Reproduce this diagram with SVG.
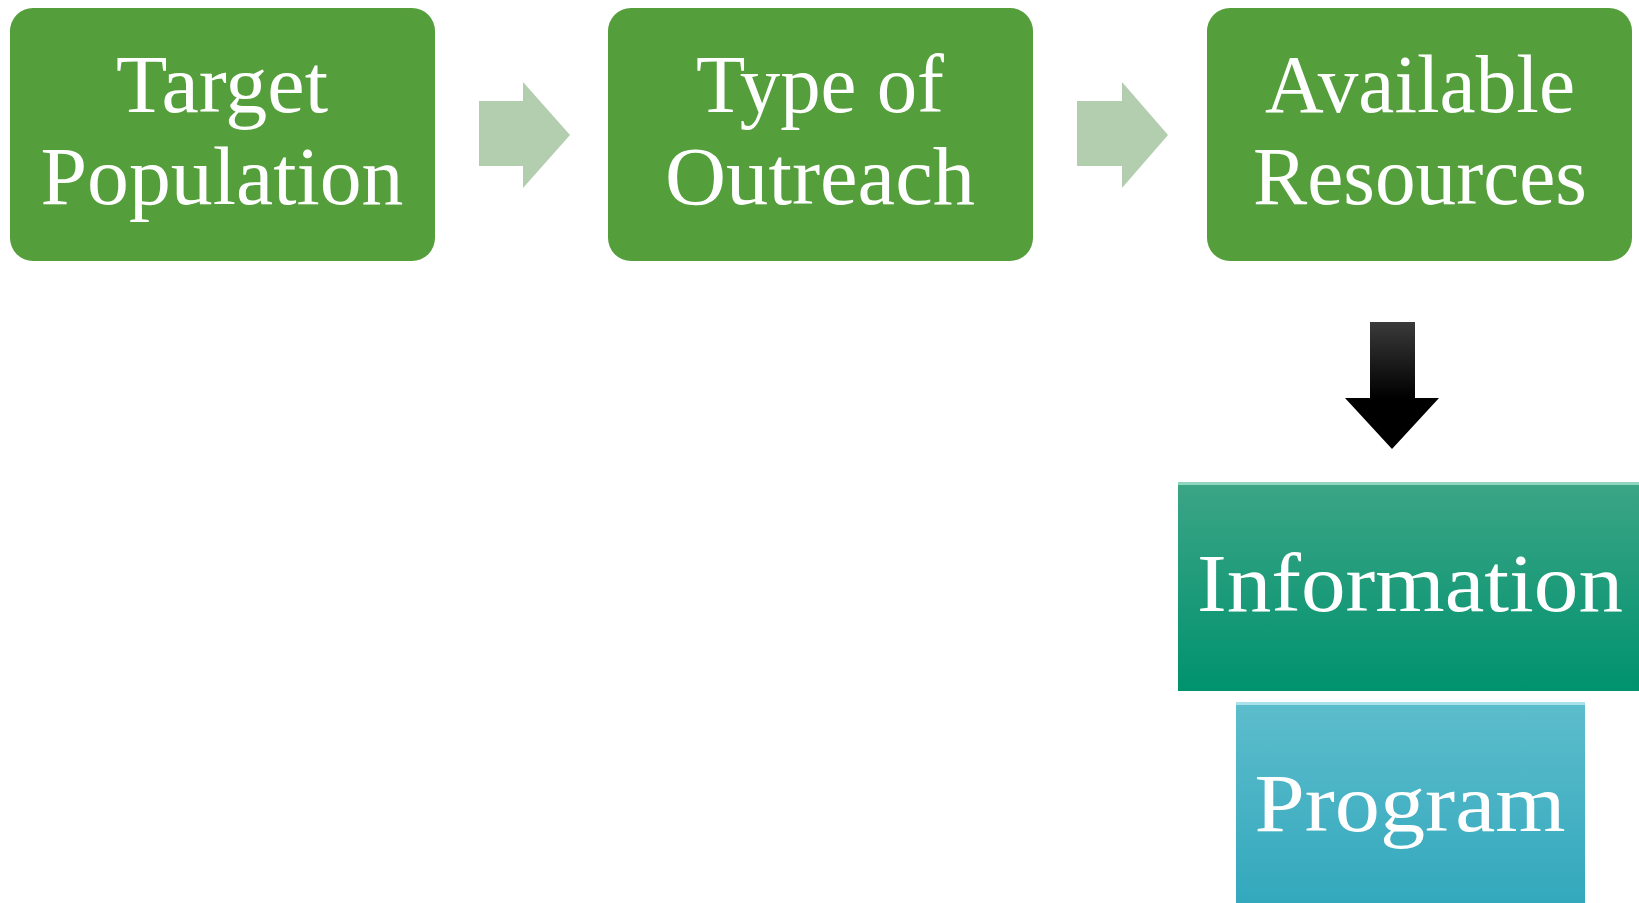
<svg xmlns="http://www.w3.org/2000/svg" width="1639" height="903" viewBox="0 0 1639 903">
<defs>
<linearGradient id="gInfo" x1="0" y1="0" x2="0" y2="1">
<stop offset="0" stop-color="#3ca586"/>
<stop offset="1" stop-color="#00926e"/>
</linearGradient>
<linearGradient id="gProg" x1="0" y1="0" x2="0" y2="1">
<stop offset="0" stop-color="#5dbdcc"/>
<stop offset="1" stop-color="#33a8bd"/>
</linearGradient>
<linearGradient id="gBlack" x1="0" y1="0" x2="0" y2="1">
<stop offset="0" stop-color="#3a3a3a"/>
<stop offset="0.6" stop-color="#000"/>
<stop offset="1" stop-color="#000"/>
</linearGradient>
<style>
.box{fill:#559e3c;}
.t{font-family:"Liberation Serif","DejaVu Serif",serif;font-size:82px;fill:#fff;text-anchor:middle;}
.ga{fill:#b3cdaf;}
</style>
</defs>
<rect width="1639" height="903" fill="#fff"/>
<g id="connectors">
<polygon class="ga" points="479,101 523,101 523,82 570,135 523,188 523,166 479,166"/>
<polygon class="ga" points="1077,101 1122,101 1122,82 1168,135 1122,188 1122,166 1077,166"/>
<polygon fill="url(#gBlack)" points="1370,322 1415,322 1415,398 1439,398 1392,449 1345,398 1370,398"/>
</g>
<g id="target-population">
<rect class="box" x="10" y="8" width="425" height="253" rx="23"/>
<text class="t" x="222" y="112" textLength="212" lengthAdjust="spacingAndGlyphs">Target</text>
<text class="t" x="222" y="204" textLength="363" lengthAdjust="spacingAndGlyphs">Population</text>
</g>
<g id="type-of-outreach">
<rect class="box" x="608" y="8" width="425" height="253" rx="23"/>
<text class="t" x="820" y="112" textLength="248" lengthAdjust="spacingAndGlyphs">Type of</text>
<text class="t" x="820" y="204" textLength="310" lengthAdjust="spacingAndGlyphs">Outreach</text>
</g>
<g id="available-resources">
<rect class="box" x="1207" y="8" width="425" height="253" rx="23"/>
<text class="t" x="1420" y="112" textLength="310" lengthAdjust="spacingAndGlyphs">Available</text>
<text class="t" x="1420" y="204" textLength="334" lengthAdjust="spacingAndGlyphs">Resources</text>
</g>
<g id="information">
<rect x="1178" y="482" width="461" height="209" fill="url(#gInfo)"/>
<rect x="1178" y="482" width="461" height="3" fill="#8fd6bf"/>
<text class="t" x="1410" y="611" textLength="426" lengthAdjust="spacingAndGlyphs">Information</text>
</g>
<g id="program">
<rect x="1236" y="702" width="349" height="201" fill="url(#gProg)"/>
<rect x="1236" y="702" width="349" height="3" fill="#a9e2ea"/>
<text class="t" x="1410" y="831" textLength="311" lengthAdjust="spacingAndGlyphs">Program</text>
</g>
</svg>
